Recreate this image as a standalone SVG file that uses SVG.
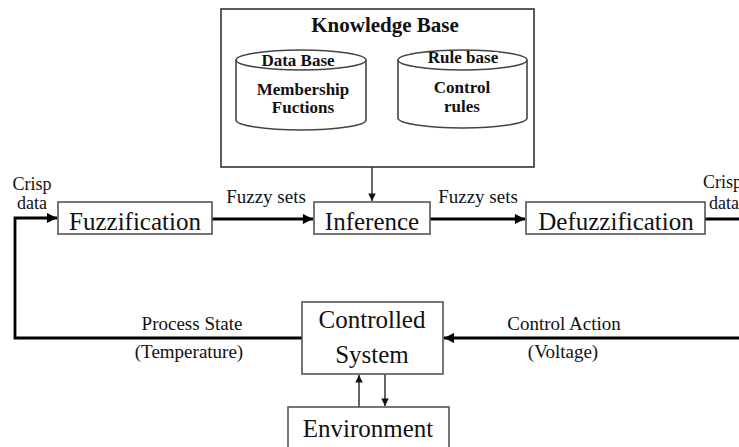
<svg xmlns="http://www.w3.org/2000/svg" width="739" height="447" viewBox="0 0 739 447">
<defs>
<marker id="ah" viewBox="0 0 10 10" refX="10" refY="5" markerWidth="4" markerHeight="3.6" orient="auto" markerUnits="strokeWidth"><path d="M0,0 L10,5 L0,10 Z" fill="#000"/></marker>
<marker id="ahs" viewBox="0 0 10 10" refX="10" refY="5" markerWidth="5.5" markerHeight="5" orient="auto" markerUnits="strokeWidth"><path d="M0,0 L10,5 L0,10 Z" fill="#111"/></marker>
<style>
text{font-family:'Liberation Serif','DejaVu Serif',serif;fill:#111;text-anchor:middle}
.box{fill:#fff;stroke:#555;stroke-width:1.6}
.kb{fill:#fff;stroke:#333;stroke-width:1.6}
.cyl{fill:#fff;stroke:#444;stroke-width:1.6}
.big{font-size:25px}
.lbl{font-size:19px}
.sm{font-size:18px}
.st{text-anchor:start}
.kbt{font-weight:bold;font-size:17px}
.thick{fill:none;stroke:#000;stroke-width:2.8}
.thin{fill:none;stroke:#333;stroke-width:1.5}
</style>
</defs>
<g id="connectors">
<path class="thick" d="M212,219 L313,219" marker-end="url(#ah)"/>
<path class="thick" d="M430,219 L525,219" marker-end="url(#ah)"/>
<path class="thick" d="M705,219 L739,219"/>
<path class="thick" d="M302,338 L15,338 L15,218 L57,218" marker-end="url(#ah)"/>
<path class="thick" d="M739,338 L444,338" marker-end="url(#ah)"/>
<path class="thin" d="M372,167 L372,201" marker-end="url(#ahs)"/>
<path class="thin" d="M359,407 L359,375" marker-end="url(#ahs)"/>
<path class="thin" d="M385,374 L385,406" marker-end="url(#ahs)"/>
<text class="lbl" x="266" y="203">Fuzzy sets</text>
<text class="lbl" x="478" y="203">Fuzzy sets</text>
<text class="sm" x="32" y="190">Crisp</text>
<text class="sm" x="32" y="209">data</text>
<text class="sm st" x="703" y="188">Crisp</text>
<text class="sm st" x="709" y="209">data</text>
<text class="lbl" x="192" y="330">Process State</text>
<text class="lbl" x="189" y="358">(Temperature)</text>
<text class="lbl" x="564" y="330">Control Action</text>
<text class="lbl" x="563" y="358">(Voltage)</text>
</g>
<g id="knowledge-base">
<rect class="kb" x="221" y="9" width="313" height="158"/>
<text x="385" y="32" style="font-weight:bold;font-size:21px">Knowledge Base</text>
</g>
<g id="data-base">
<path class="cyl" d="M236,60 A65,10 0 0 1 366,60 L366,120 A65,10 0 0 1 236,120 Z"/>
<path class="cyl" d="M236,60 A65,10 0 0 0 366,60"/>
<rect x="262" y="55" width="73" height="12" fill="#fff"/>
<text class="kbt" x="298" y="66">Data Base</text>
<text class="kbt" x="303" y="95">Membership</text>
<text class="kbt" x="303" y="113">Fuctions</text>
</g>
<g id="rule-base">
<path class="cyl" d="M398,60 A64.5,10 0 0 1 527,60 L527,118 A64.5,10 0 0 1 398,118 Z"/>
<path class="cyl" d="M398,60 A64.5,10 0 0 0 527,60"/>
<rect x="428" y="52" width="70" height="12" fill="#fff"/>
<text class="kbt" x="463" y="63">Rule base</text>
<text class="kbt" x="462" y="93">Control</text>
<text class="kbt" x="462" y="112">rules</text>
</g>
<g id="fuzzification">
<rect class="box" x="58" y="202" width="154" height="32"/>
<text class="big" x="135" y="230">Fuzzification</text>
</g>
<g id="inference">
<rect class="box" x="314" y="202" width="116" height="32"/>
<text class="big" x="372" y="230">Inference</text>
</g>
<g id="defuzzification">
<rect class="box" x="526" y="202" width="179" height="32"/>
<text class="big" x="616" y="230">Defuzzification</text>
</g>
<g id="controlled-system">
<rect class="box" x="302" y="302" width="141" height="72"/>
<text class="big" x="372" y="328">Controlled</text>
<text class="big" x="372" y="363">System</text>
</g>
<g id="environment">
<rect class="box" x="288" y="407" width="161" height="50"/>
<text class="big" x="368" y="437">Environment</text>
</g>
</svg>
